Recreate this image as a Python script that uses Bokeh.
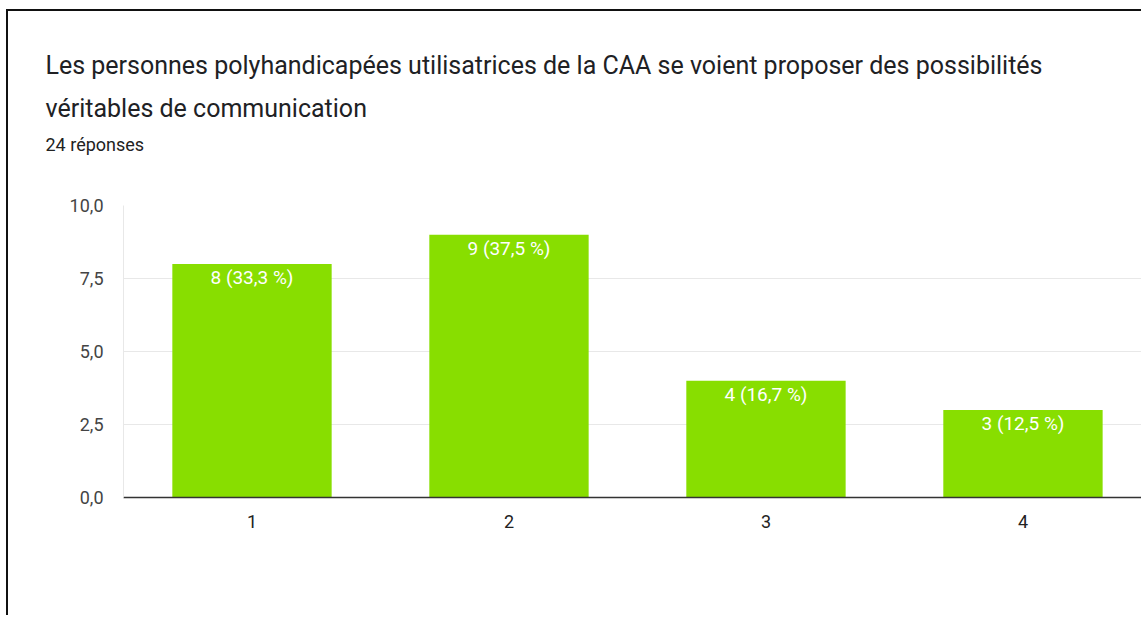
from bokeh.plotting import figure
from bokeh.models import Title, Range1d, FixedTicker, CustomJSTickFormatter, ColumnDataSource
from bokeh.core.properties import value
from bokeh.embed import file_html
from bokeh.resources import INLINE

title_line1 = "Les personnes polyhandicapées utilisatrices de la CAA se voient proposer des possibilités"
title_line2 = "véritables de communication"
subtitle = "24 réponses"

categories = [1, 2, 3, 4]
counts = [8, 9, 4, 3]
bar_labels = ["8 (33,3 %)", "9 (37,5 %)", "4 (16,7 %)", "3 (12,5 %)"]
y_ticks = [0, 2.5, 5, 7.5, 10]

FONT = "Roboto"
GREEN = "#88de00"

src = ColumnDataSource(dict(x=categories, y=counts, label=bar_labels))

p = figure(width=1135, height=606, output_backend="svg", toolbar_location=None,
           x_range=Range1d(0.5, 4.469), y_range=Range1d(0, 10),
           min_border_left=115, min_border_right=0, min_border_bottom=120,
           min_border_top=0, title=None,
           styles={"margin-left": "6px", "margin-top": "9px",
                   "border-left": "2px solid #111", "border-top": "2px solid #111"})

for txt, size, color, so in [(" ", "20px", "#ffffff", 17),
                             (subtitle, "18px", "#222222", 16),
                             (title_line2, "25px", "#202124", 1),
                             (title_line1, "25px", "#202124", 23),
                             (" ", "20px", "#ffffff", 0)]:
    t = Title(text=txt, text_font=FONT, text_font_size=size, text_font_style="normal",
              text_color=color, align="left", offset=-78, standoff=so)
    p.add_layout(t, "above")

p.vbar(x="x", top="y", width=0.62, source=src, fill_color=GREEN, line_color=None)
p.text(x="x", y="y", text="label", source=src, text_align="center", text_baseline="top",
       y_offset=2, text_color="white", text_font=value(FONT), text_font_size="19px")

p.outline_line_color = None
p.xgrid.grid_line_color = None
p.ygrid.grid_line_color = "#e8e8e8"
p.ygrid.ticker = FixedTicker(ticks=y_ticks)

p.xaxis.ticker = FixedTicker(ticks=categories)
p.xaxis.axis_line_color = "#333333"
p.xaxis.axis_line_width = 1.5
p.xaxis.major_tick_line_color = None
p.xaxis.minor_tick_line_color = None
p.xaxis.major_label_text_font = FONT
p.xaxis.major_label_text_font_size = "18px"
p.xaxis.major_label_text_color = "#222222"
p.xaxis.major_label_standoff = 11

p.yaxis.ticker = FixedTicker(ticks=y_ticks)
p.yaxis.formatter = CustomJSTickFormatter(code="return tick.toFixed(1).replace('.', ',');")
p.yaxis.axis_line_color = "#e8e8e8"
p.yaxis.major_tick_line_color = None
p.yaxis.minor_tick_line_color = None
p.yaxis.major_label_text_font = FONT
p.yaxis.major_label_text_font_size = "18px"
p.yaxis.major_label_text_color = "#444444"
p.yaxis.major_label_standoff = 14

open("out.html", "w").write(file_html(p, INLINE))
